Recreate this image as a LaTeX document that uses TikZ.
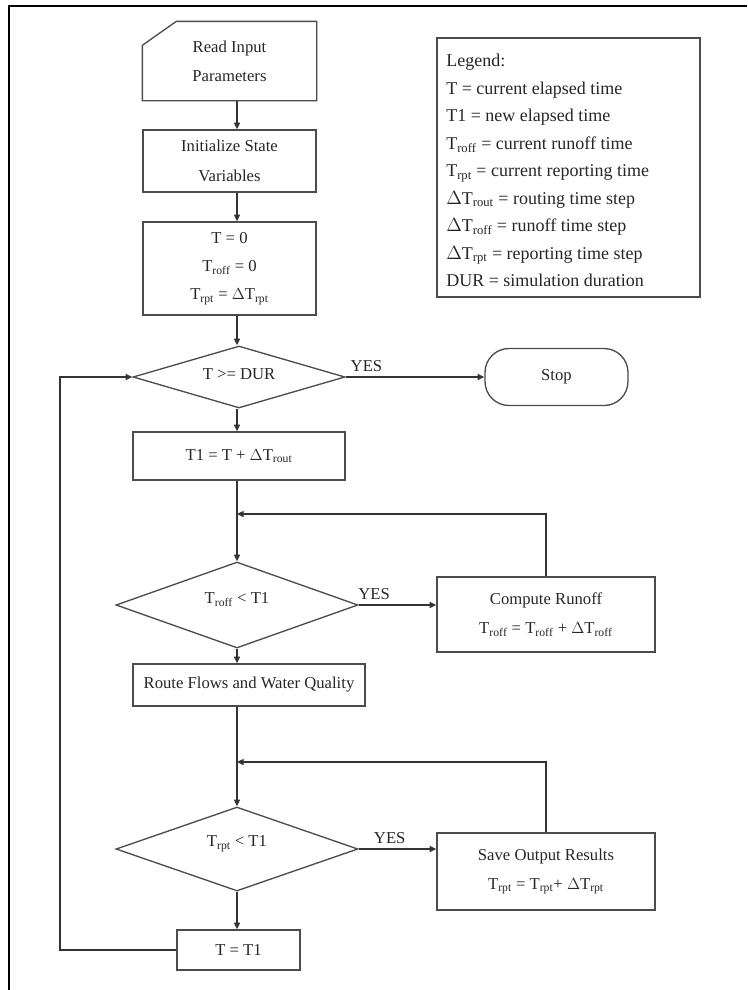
\documentclass[tikz,border=0pt]{standalone}
\usepackage{fontspec}
\setmainfont{Liberation Serif}
\usetikzlibrary{shapes.geometric,arrows.meta}
\begin{document}
\begin{tikzpicture}[x=0.75pt,y=-0.75pt,
  every node/.style={font=\fontsize{12.5}{22}\selectfont, text=black!85},
  edge/.style={draw=black!70, line width=1pt},
  box/.style={edge, rectangle, align=center, inner sep=0pt},
  dec/.style={edge, diamond, inner sep=0pt},
  conn/.style={draw=black!80, line width=1pt},
  arr/.style={conn, -{Triangle[length=5pt,width=4.5pt]}},
  lbl/.style={font=\fontsize{12.5}{14}\selectfont}
]
\useasboundingbox (0,0) rectangle (747,990);
\draw[black, line width=0.8pt] (9,990) -- (9,6) -- (747,6);

% nodes
\node[box, draw=none, minimum width=173*0.75pt, minimum height=78*0.75pt] (read) at (229.5,61) {Read Input\\Parameters};
\draw[edge] (read.south west) -- ([yshift=-18pt]read.north west) -- ([xshift=25.5pt]read.north west)
  -- (read.north east) -- (read.south east) -- cycle;
\node[box, minimum width=173*0.75pt, minimum height=62*0.75pt] (init) at (229.5,161) {Initialize State\\Variables};
\node[box, minimum width=173*0.75pt, minimum height=93*0.75pt, font=\fontsize{12.5}{21}\selectfont] (t0) at (229.5,268.5)
  {T = 0\\ T$_{\mathrm{roff}}$ = 0\\ T$_{\mathrm{rpt}}$ = $\Delta$T$_{\mathrm{rpt}}$};
\node[dec, minimum width=212*0.75pt, minimum height=62*0.75pt] (d1) at (239,377) {};
\node at ([yshift=2pt]d1.center) {T >= DUR};
\node[box, rounded corners=18pt, minimum width=143*0.75pt, minimum height=57*0.75pt] (stop) at (556.5,377) {Stop};
\node[box, minimum width=212*0.75pt, minimum height=48*0.75pt] (t1) at (239,456) {T1 = T + $\Delta$T$_{\mathrm{rout}}$};
\node[dec, minimum width=242*0.75pt, minimum height=86*0.75pt] (d2) at (237,605) {};
\node at ([yshift=4pt]d2.center) {T$_{\mathrm{roff}}$ < T1};
\node[box, minimum width=218*0.75pt, minimum height=75*0.75pt] (comp) at (546,614.5)
  {Compute Runoff\\ T$_{\mathrm{roff}}$ = T$_{\mathrm{roff}}$ + $\Delta$T$_{\mathrm{roff}}$};
\node[box, minimum width=232*0.75pt, minimum height=42*0.75pt] (route) at (249,685) {Route Flows and Water Quality};
\node[dec, minimum width=242*0.75pt, minimum height=84*0.75pt] (d3) at (237,849) {};
\node at ([yshift=4pt]d3.center) {T$_{\mathrm{rpt}}$ < T1};
\node[box, minimum width=218*0.75pt, minimum height=77*0.75pt] (save) at (546,871.5)
  {Save Output Results\\ T$_{\mathrm{rpt}}$ = T$_{\mathrm{rpt}}$+ $\Delta$T$_{\mathrm{rpt}}$};
\node[box, minimum width=123*0.75pt, minimum height=40*0.75pt] (tt) at (238.5,950) {T = T1};

\node[box, minimum width=263*0.75pt, minimum height=259*0.75pt] (legend) at (568.5,167.5) {};
\node[anchor=north west, align=left, inner sep=0pt, font=\fontsize{13.5}{20.6}\selectfont] (legtext) at (446,54) {Legend:\\
T = current elapsed time\\
T1 = new elapsed time\\
T$_{\mathrm{roff}}$ = current runoff time\\
T$_{\mathrm{rpt}}$ = current reporting time\\
$\Delta$T$_{\mathrm{rout}}$ = routing time step\\
$\Delta$T$_{\mathrm{roff}}$ = runoff time step\\
$\Delta$T$_{\mathrm{rpt}}$ = reporting time step\\
DUR = simulation duration};

% coordinates
\coordinate (m1) at (237,514);
\coordinate (m2) at (237,762);
\coordinate (lp1) at (60,950);
\coordinate (lp2) at (60,377);

% connectors
\draw[arr] (read.south -| 237,0) -- (init.north -| 237,0);
\draw[arr] (init.south -| 237,0) -- (t0.north -| 237,0);
\draw[arr] (t0.south -| 237,0) -- (d1.north -| 237,0);
\draw[arr] (d1.east) -- node[lbl, above, pos=0.15] {YES} (stop.west);
\draw[arr] (d1.south -| 237,0) -- (t1.north -| 237,0);
\draw[arr] (t1.south -| 237,0) -- (d2.north);
\draw[arr] (d2.east) -- node[lbl, above, pos=0.2] {YES} (d2.east -| comp.west);
\draw[arr] (comp.north) |- (m1);
\draw[arr] (d2.south) -- (route.north -| d2.south);
\draw[arr] (route.south -| d3.north) -- (d3.north);
\draw[arr] (d3.east) -- node[lbl, above, pos=0.4] {YES} (d3.east -| save.west);
\draw[arr] (save.north) |- (m2);
\draw[arr] (d3.south) -- (tt.north -| d3.south);
\draw[arr] (tt.west) -- (lp1) -- (lp2) -- (d1.west);
\end{tikzpicture}
\end{document}
